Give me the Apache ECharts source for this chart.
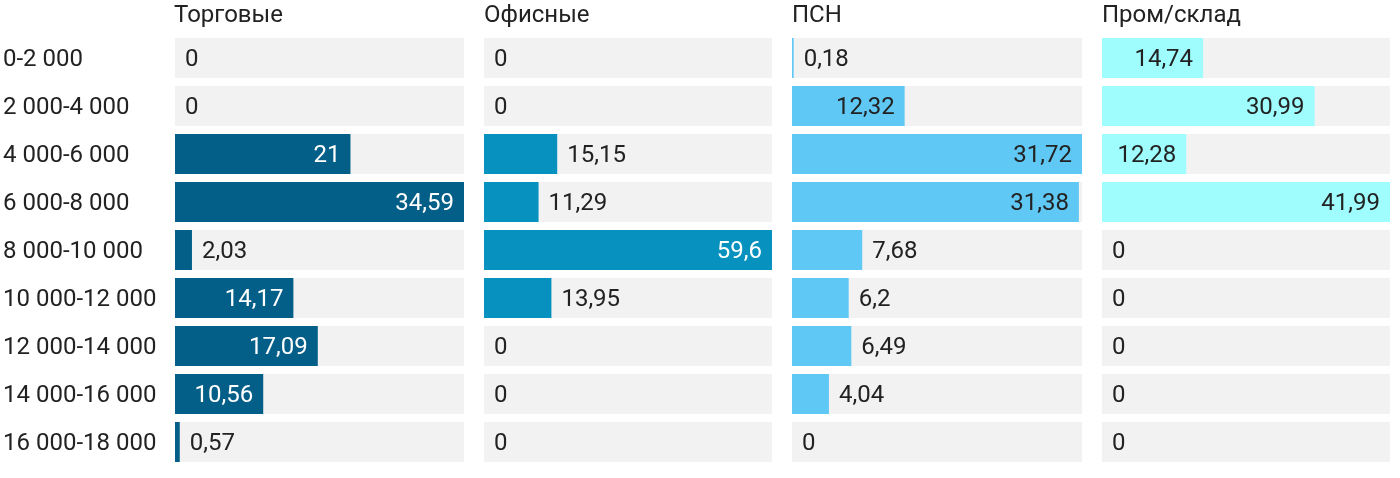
<!DOCTYPE html>
<html><head><meta charset="utf-8">
<script src="https://cdn.jsdelivr.net/npm/echarts@6/dist/echarts.min.js"></script>
<style>html,body{margin:0;padding:0;background:#fff}#c{width:1400px;height:478px}</style>
</head><body><div id="c"></div>
<script>
const categories = ['0-2 000','2 000-4 000','4 000-6 000','6 000-8 000','8 000-10 000','10 000-12 000','12 000-14 000','14 000-16 000','16 000-18 000'];
const panelTitles = ['Торговые','Офисные','ПСН','Пром/склад'];
const trade = [0, 0, 21, 34.59, 2.03, 14.17, 17.09, 10.56, 0.57];
const office = [0, 0, 15.15, 11.29, 59.6, 13.95, 0, 0, 0];
const psn = [0.18, 12.32, 31.72, 31.38, 7.68, 6.2, 6.49, 4.04, 0];
const industrial = [14.74, 30.99, 12.28, 41.99, 0, 0, 0, 0, 0];

const seriesData = [trade, office, psn, industrial];
const colors = ['#035f87', '#0791bf', '#5fc8f4', '#9ffdfd'];
const insideTextColors = ['#ffffff', '#ffffff', '#222222', '#222222'];
const lefts = [174, 484, 792, 1102];
const widths = [290, 288, 290, 288];
const FONT = 'Roboto';
const FS = 24;
const fmt = v => String(v).replace('.', ',');

const grids = [], xAxes = [], yAxes = [], series = [], titles = [];
seriesData.forEach((vals, i) => {
  const mx = Math.max(...vals);
  grids.push({left: lefts[i], width: widths[i], top: 34, height: 432});
  xAxes.push({type: 'value', gridIndex: i, min: 0, max: 'dataMax', show: false});
  yAxes.push({
    type: 'category', gridIndex: i, data: categories, inverse: true,
    axisLine: {show: false}, axisTick: {show: false}, splitLine: {show: false},
    axisLabel: {show: i === 0, align: 'left', margin: 172,
      formatter: v => '{a|' + v + '}',
      rich: {a: {fontSize: FS, color: '#222', fontFamily: FONT, padding: [4, 0, 0, 0]}}}
  });
  titles.push({text: panelTitles[i], left: lefts[i], top: 4, padding: 0,
    textStyle: {fontSize: FS, fontWeight: 'normal', color: '#222', fontFamily: FONT}});
  series.push({
    type: 'bar', xAxisIndex: i, yAxisIndex: i, barWidth: 40,
    showBackground: true, backgroundStyle: {color: '#f2f2f2'},
    itemStyle: {color: colors[i]},
    data: vals.map(v => {
      const px = mx ? v / mx * widths[i] : 0;
      const inside = px >= 78;
      return {
        value: v,
        label: inside
          ? {position: 'insideRight', distance: 10, color: insideTextColors[i]}
          : {position: 'right', distance: 10, color: '#222'}
      };
    }),
    label: {show: true, fontSize: FS, fontFamily: FONT, offset: [0, 2], formatter: p => fmt(p.value)}
  });
});

const chart = echarts.init(document.getElementById('c'), null, {renderer: 'canvas'});
chart.setOption({
  animation: false,
  title: titles,
  grid: grids, xAxis: xAxes, yAxis: yAxes, series: series
});
</script></body></html>
